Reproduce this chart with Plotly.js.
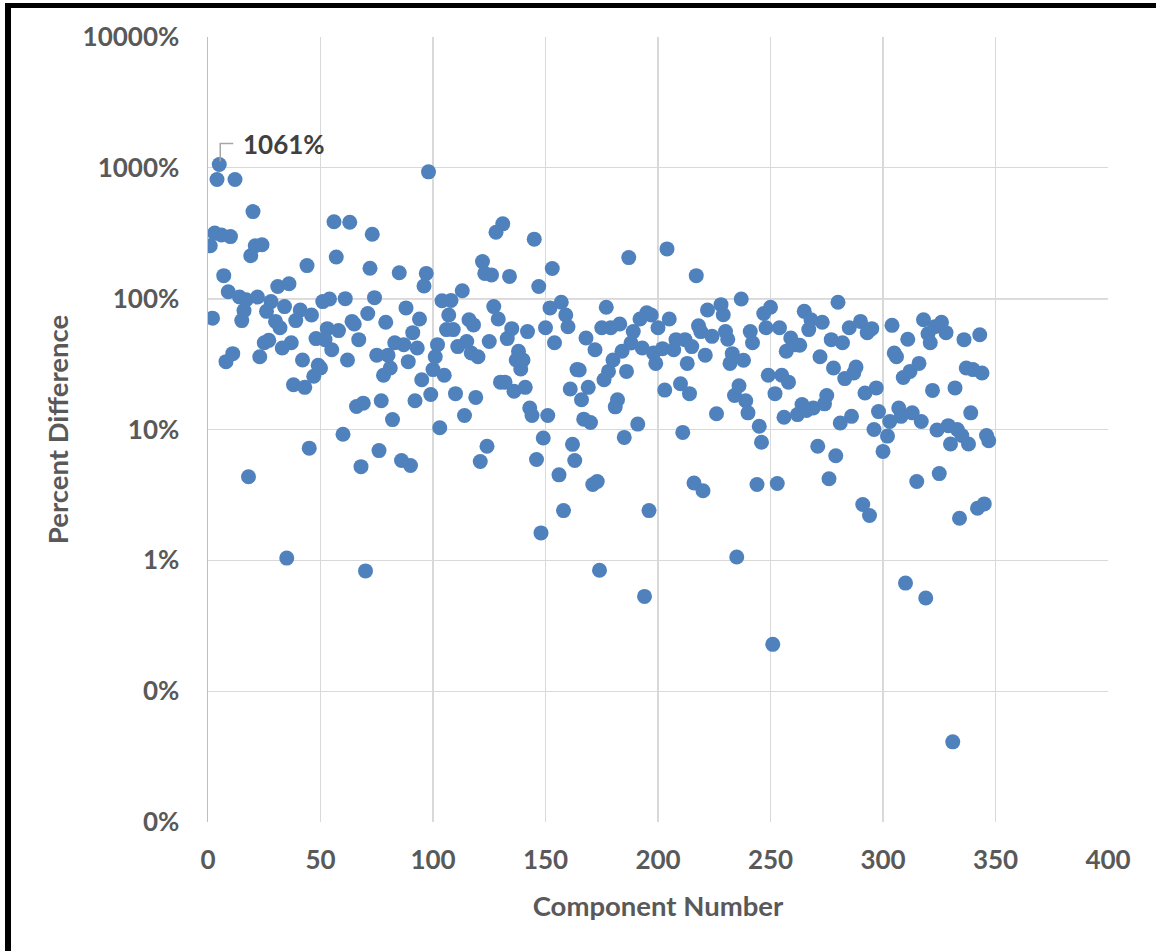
<!DOCTYPE html>
<html>
<head>
<meta charset="utf-8">
<script src="https://cdn.plot.ly/plotly-3.0.1.min.js"></script>
<style>
  html, body { margin: 0; padding: 0; background: #ffffff; }
  #wrap { position: relative; width: 1156px; height: 951px; overflow: hidden; }
  #chart { position: absolute; left: 0; top: 0; width: 1156px; height: 951px; }
  #frame { position: absolute; left: 5px; top: 3px; right: -10px; bottom: -10px;
           border-left: 6px solid #000; border-top: 5px solid #000; pointer-events: none; }
</style>
</head>
<body>
<div id="wrap">
  <div id="chart"></div>
  <div id="frame"></div>
</div>
<script>
// Component number (x) and percent difference in % (y)
const componentNumber = [
  1,2,3,4,5,6,7,8,9,10,
  11,12,14,15,16,17,18,19,20,21,
  22,23,24,25,26,27,28,30,31,32,
  33,34,35,36,37,38,39,41,42,43,
  44,45,46,47,48,49,50,51,52,53,
  54,55,56,57,58,60,61,62,63,64,
  65,66,67,68,69,70,71,72,73,74,
  75,76,77,78,79,80,81,82,83,85,
  86,87,88,89,90,91,92,93,94,95,
  96,97,98,99,100,101,102,103,104,105,
  106,107,108,109,110,111,113,114,115,116,
  117,118,119,120,121,122,123,124,125,126,
  127,128,129,130,131,132,133,134,135,136,
  137,138,139,140,141,142,143,144,145,146,
  147,148,149,150,151,152,153,154,156,157,
  158,159,160,161,162,163,164,165,166,167,
  168,169,170,171,172,173,174,175,176,177,
  178,179,180,181,182,183,184,185,186,187,
  188,189,191,192,193,194,195,196,197,198,
  199,200,202,203,204,205,207,208,210,211,
  212,213,214,215,216,217,218,219,220,221,
  222,224,226,228,229,230,231,232,233,234,
  235,236,237,238,239,240,241,242,244,245,
  246,247,248,249,250,251,252,253,254,255,
  256,257,258,259,261,262,263,264,265,266,
  267,268,269,271,272,273,274,275,276,277,
  278,279,280,281,282,283,285,286,287,288,
  290,291,292,293,294,295,296,297,298,300,
  302,303,304,305,306,307,308,309,310,311,
  312,313,315,316,317,318,319,320,321,322,
  323,324,325,326,328,329,330,331,332,333,
  334,335,336,337,338,339,340,342,343,344,
  345,346,347
];
const percentDifference = [
  254,71,317,814,1061,307,150,33,113,298,
  38,814,103,68,81,98,4.35,213,463,254,
  103,36,258,46,80,48,95,67,124,60,
  42,87,1.04,130,46,22,68,82,34,21,
  179,7.2,75,25.5,49.5,31,29.5,95,48.6,59,
  99.5,40.7,387,208,57,9.2,100,34,384,67,
  64,15,48.6,5.2,15.9,0.83,77,171,311,101.8,
  37,6.9,16.6,26,66,37,29.5,11.9,46,158,
  5.8,44.5,85,33,5.3,55,16.6,42,70,24,
  125,156,932,18.5,28.7,36,44.5,10.3,96.5,26,
  58,75,97,58,18.8,43,115,12.8,47,69,
  38.4,63,17.6,36,5.7,192,156,7.45,47,152,
  87,322,70,23,373,23,49.5,148,59,19.6,
  34,39.6,29,34,21,56,14.6,12.8,285,5.9,
  124,1.62,8.6,60,12.8,85,170,46,4.5,94,
  2.4,75,61,20.4,7.7,5.8,28.7,28.5,16.9,12,
  50,21,11.3,3.8,40.7,4.0,0.84,60,24,86,
  27.8,60,34,14.9,16.9,64,39.6,8.7,27.8,206,
  45.8,56,11,70,42,0.53,78,2.4,75,38.4,
  32,60,41.5,20,240,70,40.7,48.6,22.4,9.5,
  48.6,32,18.8,43,3.9,150,62,56,3.4,37,
  82,51.5,13.2,90,75.4,56,49,32,38,18.2,
  1.06,21.6,99.5,33.8,16.6,13.4,56,46,3.8,10.6,
  8.0,77,60,26,86,0.228,18.8,3.87,60,26,
  12.4,39.6,23,50,44.5,13,44,15.5,80,14,
  58,69,14.6,7.45,36,66,15.7,18.2,4.2,48.6,
  29.5,6.3,94,11.2,46,24.5,60,12.6,27,30,
  67,2.67,19,55,2.2,59,10,20.8,13.7,6.8,
  8.9,11.5,62.5,38.4,36,14.6,12.6,25,0.67,49,
  27.8,13.4,4.0,32,11.5,69,0.515,54,46,19.9,
  61,9.9,4.6,66,55,10.7,7.75,0.041,20.8,10,
  2.1,9.0,48.6,29.5,7.75,13.4,28.7,2.5,53,27,
  2.7,9.0,8.2
];
const yTickValues = [0.01, 0.1, 1, 10, 100, 1000, 10000];
const yTickLabels = ['0%', '0%', '1%', '10%', '100%', '1000%', '10000%'];
const xTickValues = [0, 50, 100, 150, 200, 250, 300, 350, 400];
const xAxisTitle = 'Component Number';
const yAxisTitle = 'Percent Difference';
const labelIndex = 4;               // the labelled point (component 5)
const axisCrossValue = 100;         // horizontal axis crosses at 100%

const labelX = componentNumber[labelIndex];
const labelY = percentDifference[labelIndex];

const FONT = 'Lato, "Open Sans", sans-serif';
const tickFont = { family: FONT, size: 26, color: '#595959', weight: 700 };
const titleFont = { family: FONT, size: 27.5, color: '#595959', weight: 700 };

const trace = {
  type: 'scatter',
  mode: 'markers',
  x: componentNumber,
  y: percentDifference,
  marker: { color: '#4f81bd', size: 15, line: { width: 0 } },
  hoverinfo: 'x+y'
};

const layout = {
  width: 1156,
  height: 951,
  margin: { l: 208, r: 48, t: 37, b: 129 },
  paper_bgcolor: '#ffffff',
  plot_bgcolor: '#ffffff',
  showlegend: false,
  xaxis: {
    range: [0, 400],
    tickvals: xTickValues,
    ticks: '',
    showgrid: true,
    gridcolor: '#d9d9d9',
    gridwidth: 1.3,
    zeroline: false,
    showline: false,
    tickfont: tickFont,
    ticklabelstandoff: 20,
    title: { text: xAxisTitle, font: titleFont, standoff: 22 },
    automargin: false,
    fixedrange: true
  },
  yaxis: {
    type: 'log',
    range: [Math.log10(0.01), Math.log10(10000)],
    tickvals: yTickValues,
    ticktext: yTickLabels,
    ticks: '',
    showgrid: true,
    gridcolor: '#d9d9d9',
    gridwidth: 1.3,
    zeroline: false,
    showline: true,
    linecolor: '#bfbfbf',
    linewidth: 1.5,
    tickfont: tickFont,
    ticklabelstandoff: 22,
    title: { text: yAxisTitle, font: titleFont, standoff: 6 },
    automargin: false,
    fixedrange: true
  },
  shapes: [
    {
      type: 'line', xref: 'paper', yref: 'y',
      x0: 0, x1: 1, y0: axisCrossValue, y1: axisCrossValue,
      line: { color: '#bfbfbf', width: 1.5 }, layer: 'below'
    },
    {
      type: 'path', xref: 'x', yref: 'y',
      xsizemode: 'pixel', ysizemode: 'pixel',
      xanchor: labelX, yanchor: labelY,
      path: 'M1,3 L1,21 L14,21',
      line: { color: '#a6a6a6', width: 1.5 }, layer: 'above'
    }
  ],
  annotations: [
    {
      x: labelX, y: Math.log10(labelY), xref: 'x', yref: 'y',
      text: labelY + '%', showarrow: false,
      xanchor: 'left', yanchor: 'middle',
      xshift: 22, yshift: 20,
      font: { family: FONT, size: 26, color: '#404040', weight: 700 }
    }
  ]
};

Plotly.newPlot('chart', [trace], layout, { displayModeBar: false, staticPlot: true });
</script>
</body>
</html>
